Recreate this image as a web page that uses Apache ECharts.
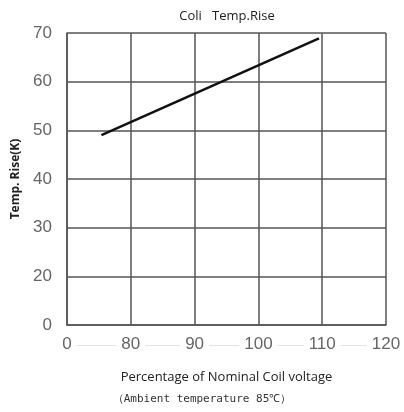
<!DOCTYPE html>
<html><head><meta charset="utf-8">
<script src="https://cdn.jsdelivr.net/npm/echarts@6/dist/echarts.min.js"></script>
<style>html,body{margin:0;padding:0;background:#fff}#c{width:404px;height:412px}</style>
</head><body><div id="c"></div>
<script>
// Broken axes: the lowest tick is labelled "0" in the reference
const xTicks = [70, 80, 90, 100, 110, 120];
const xTickLabels = ['0', '80', '90', '100', '110', '120'];
const yTicks = [10, 20, 30, 40, 50, 60, 70];
const yTickLabels = ['0', '20', '30', '40', '50', '60', '70'];
const voltagePct = [75.4, 109.5];
const tempRise = [49.0, 68.9];

const tickFont = {fontFamily: 'Liberation Sans', fontSize: 17, color: '#666'};
const chart = echarts.init(document.getElementById('c'));
chart.setOption({
  animation: false,
  title: [
    {text: 'Coli   Temp.Rise', left: 222, top: 5, textAlign: 'center',
     textStyle: {fontFamily: 'Open Sans', fontSize: 13, fontWeight: 'normal', color: '#222'}},
    {text: '（Ambient temperature 85℃）', left: 197, top: 389, textAlign: 'center',
     textStyle: {fontFamily: 'DejaVu Sans Mono', fontSize: 11, fontWeight: 'normal', color: '#333'}}
  ],
  grid: {left: 67, right: 18, top: 33, bottom: 87, containLabel: false, outerBoundsMode: 'none'},
  xAxis: [{
    type: 'value', min: 70, max: 120, interval: 10,
    name: 'Percentage of Nominal Coil voltage', nameLocation: 'middle', nameGap: 46,
    nameTextStyle: {fontFamily: 'Open Sans', fontSize: 13, color: '#222'},
    axisLine: {show: true, lineStyle: {color: '#555', width: 1.5}},
    axisTick: {show: false},
    axisLabel: {show: false},
    splitLine: {show: true, lineStyle: {color: '#555', width: 1.5}}
  }, {
    type: 'value', min: 70, max: 120, interval: 10, position: 'bottom', offset: 20,
    axisLine: {show: true, lineStyle: {color: '#e4e4e4', width: 1}},
    axisTick: {show: false},
    axisLabel: Object.assign({margin: -9, backgroundColor: '#fff', padding: [0, 5],
      formatter: v => xTickLabels[xTicks.indexOf(v)]}, tickFont),
    splitLine: {show: false}
  }],
  yAxis: {
    type: 'value', min: 10, max: 70, interval: 10,
    name: 'Temp. Rise(K)', nameLocation: 'middle', nameGap: 45, nameRotate: 90,
    nameTextStyle: {fontFamily: 'Open Sans', fontSize: 12, fontWeight: 'bold', color: '#222'},
    axisLine: {show: true, lineStyle: {color: '#555', width: 1.5}},
    axisTick: {show: false},
    axisLabel: Object.assign({margin: 15,
      formatter: v => yTickLabels[yTicks.indexOf(v)]}, tickFont),
    splitLine: {show: true, lineStyle: {color: '#555', width: 1.5}}
  },
  series: [{
    type: 'line', xAxisIndex: 0, data: voltagePct.map((x, i) => [x, tempRise[i]]),
    symbol: 'none', lineStyle: {color: '#111', width: 2.5}
  }]
});
</script></body></html>
